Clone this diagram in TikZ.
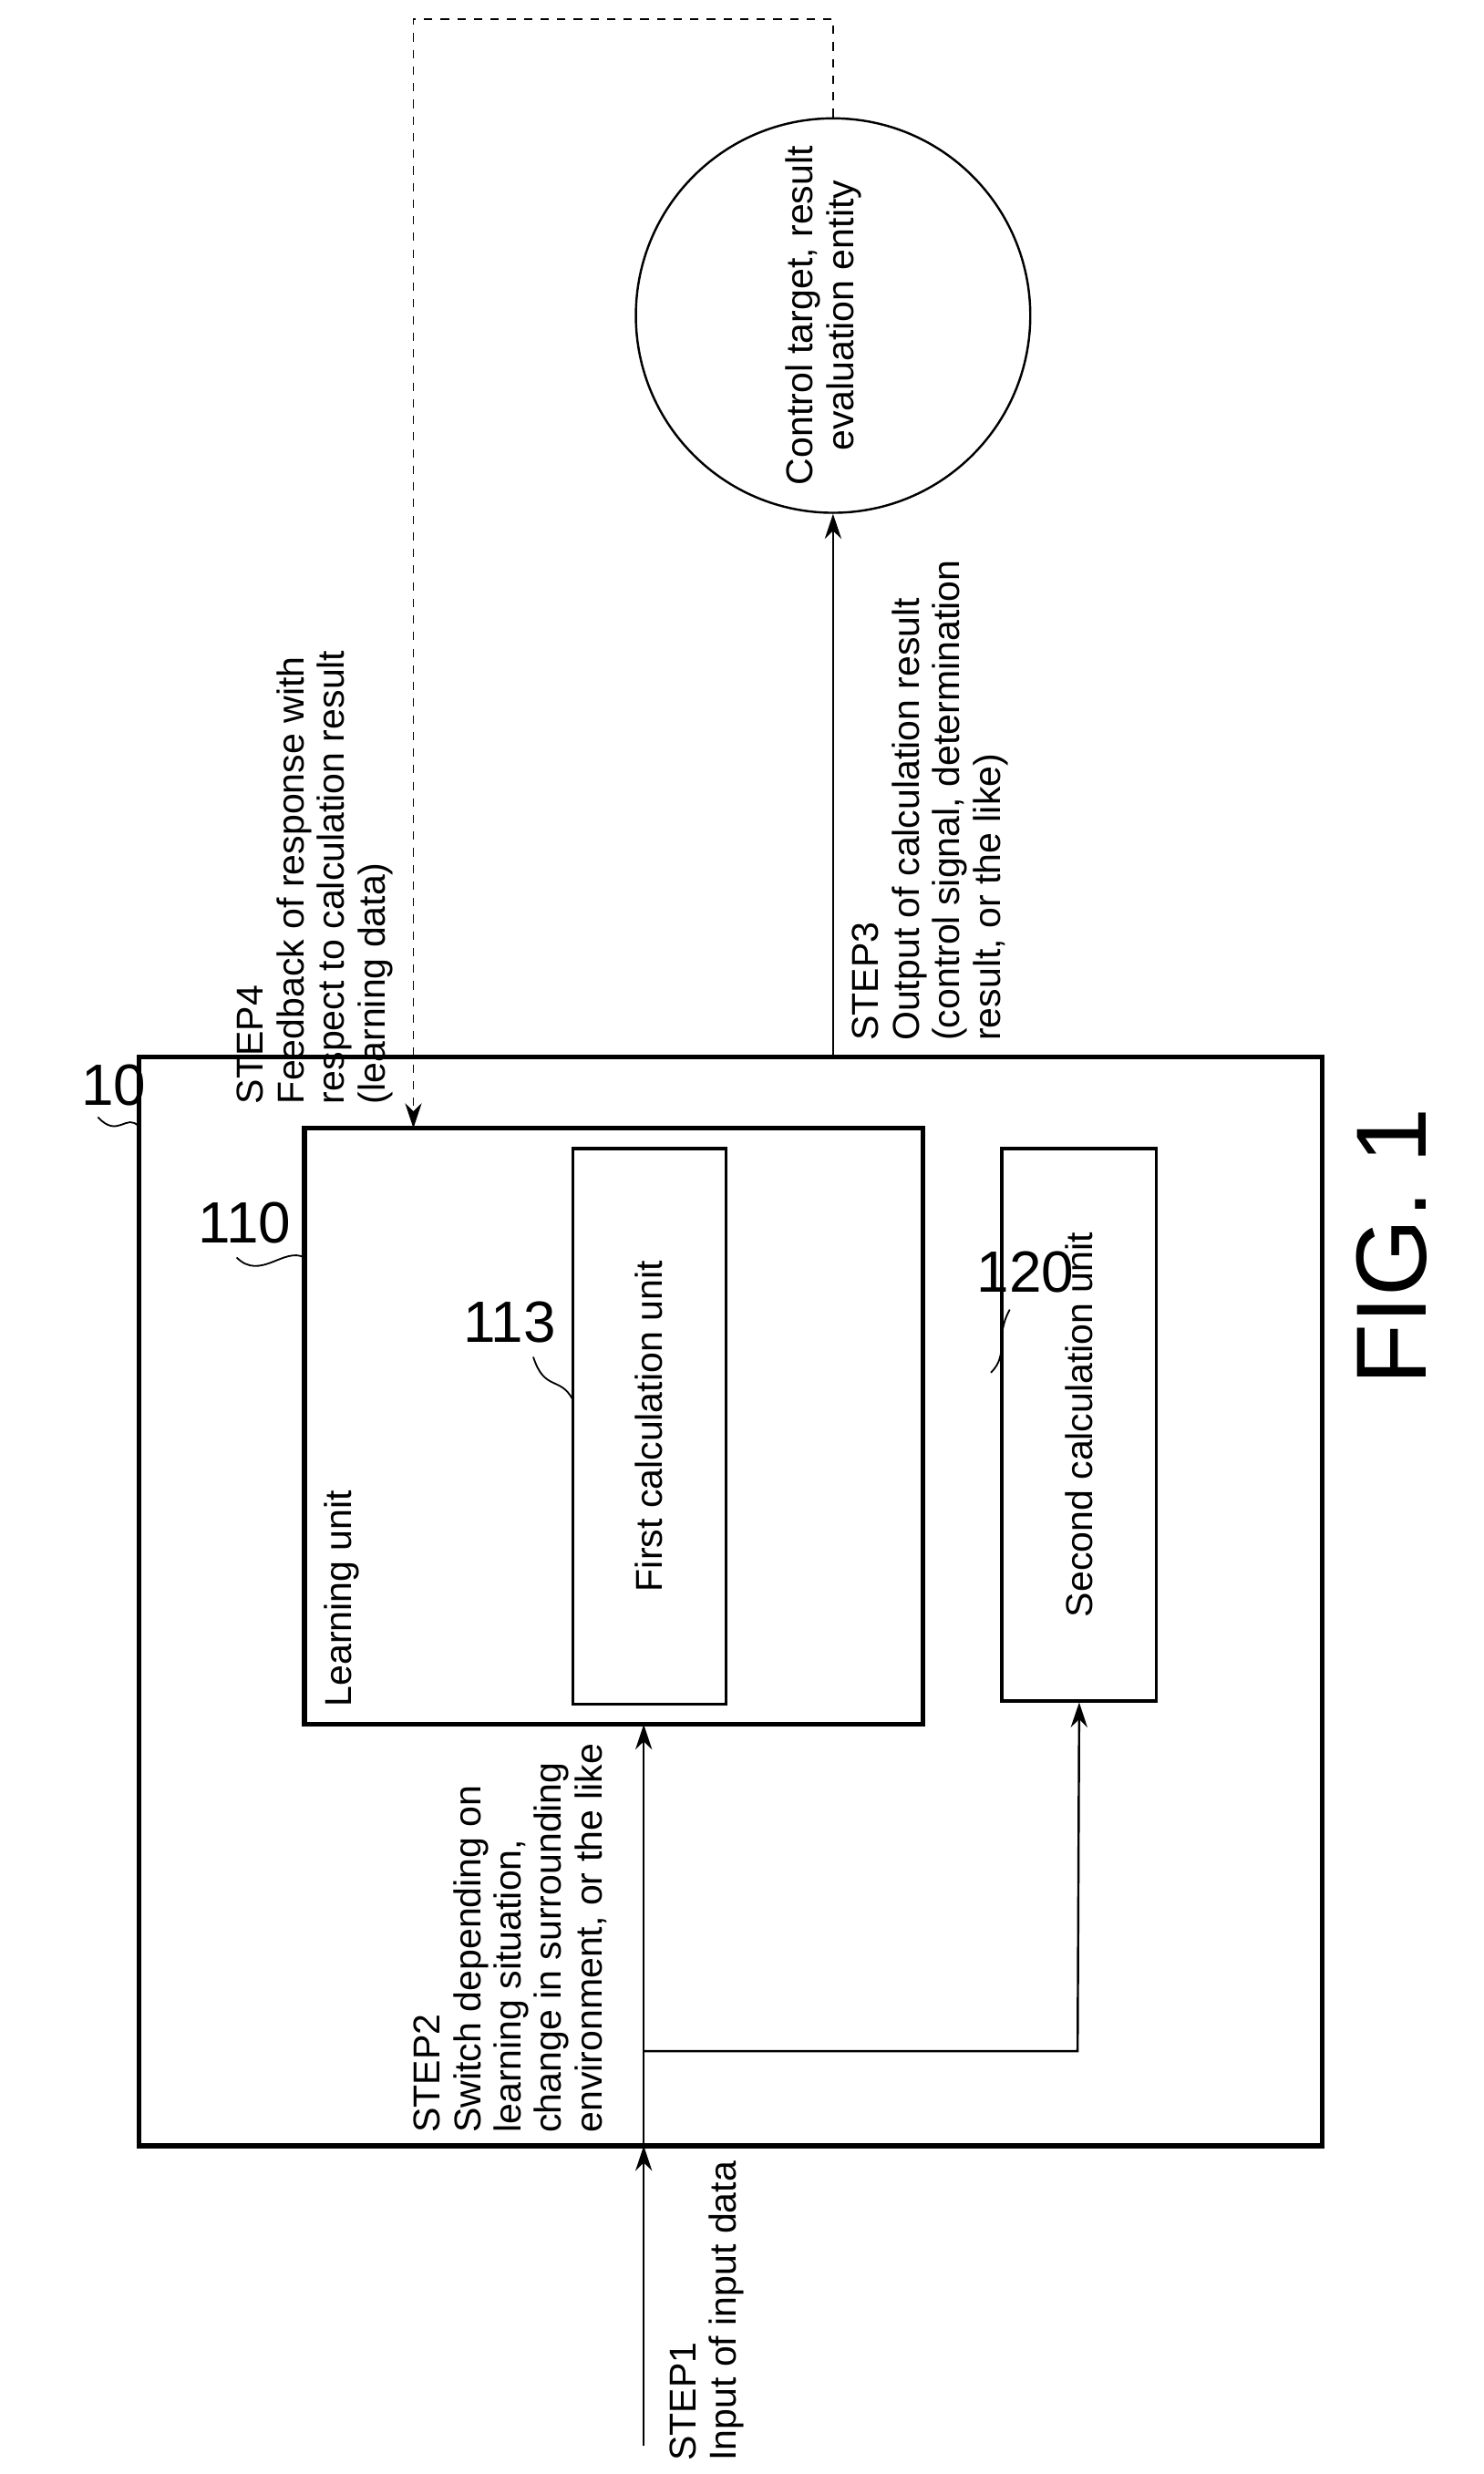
\documentclass[tikz,border=0pt]{standalone}
\usepackage{fontspec}
\setmainfont{Liberation Sans}
\usetikzlibrary{arrows.meta,positioning}

\begin{document}
\begin{tikzpicture}[
  x=0.02cm, y=-0.02cm,
  unit/.style={draw, line width=1.7pt},
  block/.style={draw, line width=1.1pt},
  txt/.style={rotate=90, font=\fontsize{13.5}{14.6}\selectfont, align=left, inner sep=0pt},
  num/.style={font=\fontsize{21}{21}\selectfont},
  lead/.style={line width=0.6pt},
  arrow/.style={-{Stealth[length=9pt,width=6pt]}, line width=0.8pt},
]
  \useasboundingbox (0,0) rectangle (940,1568);

  % boxes
  \draw[unit] (88,670) rectangle (838,1360);
  \coordinate (outer-top) at (528,670);
  \coordinate (outer-bot) at (408,1360);
  \draw[unit] (193,715) rectangle (585,1093);
  \coordinate (learn-top) at (262,715);
  \coordinate (learn-bot) at (408,1093);
  \node[block, minimum width=97*0.02cm, minimum height=352*0.02cm] (first) at (411.5,904) {};
  \node[block, minimum width=98*0.02cm, minimum height=350*0.02cm] (second) at (684,903) {};
  \node[txt] at (first) {First calculation unit};
  \node[txt] at (second) {Second calculation unit};
  \node[txt, anchor=north west] at (205,1082) {Learning unit};
  \node[draw, circle, line width=0.8pt, minimum size=250*0.02cm] (target) at (528,200) {};
  \node[txt, align=center] at (522,200) {Control target, result\\evaluation entity};

  % reference numerals
  \node[num] (n10) at (72,688) {10};
  \draw[lead] (62,708) .. controls (75,722) and (80,705) .. (88,714);
  \node[num] (n110) at (155,775) {110};
  \draw[lead] (150,797) .. controls (165,812) and (180,790) .. (193,797);
  \node[num] (n113) at (323,838) {113};
  \draw[lead] (338,860) .. controls (345,882) and (355,872) .. (363,887);
  \node[num] (n120) at (650,806) {120};
  \draw[lead] (640,830) .. controls (630,848) and (640,858) .. (628,870);

  % connectors
  \coordinate (in-start) at (408,1550);
  \coordinate (branch) at (408,1300);
  \coordinate (corner) at (683,1300);
  \draw[arrow] (in-start) -- (outer-bot);
  \draw[arrow] (outer-bot) -- (learn-bot);
  \draw[arrow] (branch) -- (corner) -- (second.south);
  \draw[arrow] (outer-top) -- (target.south);
  \coordinate (fb-a) at (528,12);
  \coordinate (fb-b) at (262,12);
  \draw[arrow, dashed, line width=0.6pt] (target.north) -- (fb-a) -- (fb-b) -- (learn-top);

  % step labels
  \node[txt, anchor=north west] at (150,700) {STEP4\\Feedback of response with\\respect to calculation result\\(learning data)};
  \node[txt, anchor=north west] at (540,660) {STEP3\\Output of calculation result\\(control signal, determination\\result, or the like)};
  \node[txt, anchor=north west] at (262,1352) {STEP2\\Switch depending on\\learning situation,\\change in surrounding\\environment, or the like};
  \node[txt, anchor=north west] at (424,1560) {STEP1\\Input of input data};

  \node[rotate=90, font=\fontsize{36}{36}\selectfont] (fig) at (882,790) {FIG. 1};
\end{tikzpicture}
\end{document}
